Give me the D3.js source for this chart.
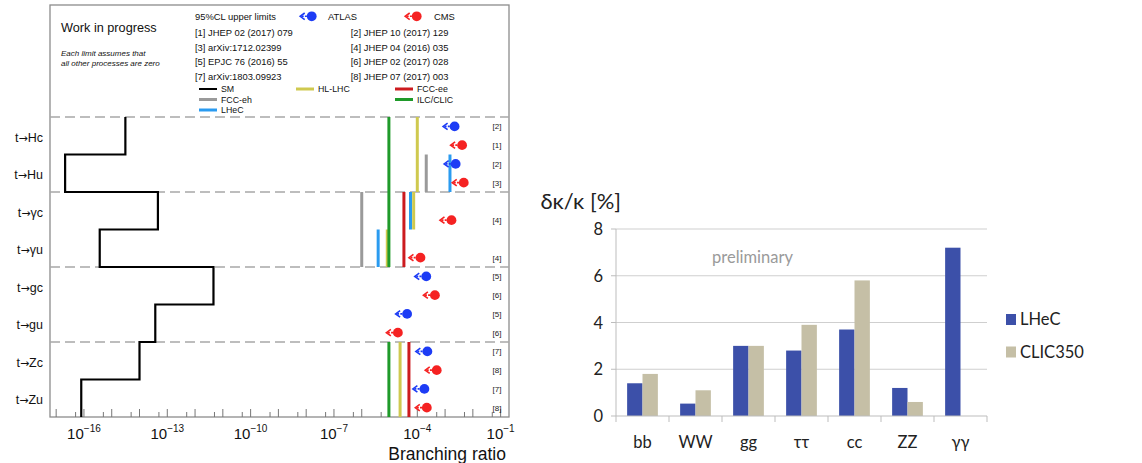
<!DOCTYPE html>
<html><head><meta charset="utf-8">
<script src="https://cdn.jsdelivr.net/npm/d3@7"></script>
<style>body{margin:0;background:#fff;} svg{display:block;}</style>
</head><body><svg id="c" width="1142" height="463"></svg>
<script>
// ---------------- Left panel data ----------------
const categories = ["t→Hc","t→Hu","t→γc","t→γu","t→gc","t→gu","t→Zc","t→Zu"];
const smBR = [3.1e-15, 2.1e-17, 4.6e-14, 3.7e-16, 4.6e-12, 3.7e-14, 1.0e-14, 8.0e-17];
const atlasLimits = [2.2e-3, 2.4e-3, null, null, 2.1e-4, 4.3e-5, 2.3e-4, 1.8e-4];
const atlasRefs = ["[2]","[2]","","","[5]","[5]","[7]","[7]"];
const cmsLimits = [4.1e-3, 4.7e-3, 1.7e-3, 1.3e-4, 4.3e-4, 2.0e-5, 5.0e-4, 2.2e-4];
const cmsRefs = ["[1]","[3]","[4]","[4]","[6]","[6]","[8]","[8]"];
// future sensitivities: [first category, last category, branching ratio]
const hlLhc   = [["t→Hc","t→Hu",1.0e-4],["t→γc","t→γc",7.4e-5],["t→γu","t→γu",8.3e-6],["t→Zc","t→Zu",2.4e-5]];
const fccEh   = [["t→Hu","t→Hu",2.1e-4],["t→γc","t→γu",1.0e-6]];
const lhecFcnc= [["t→Hu","t→Hu",1.5e-3],["t→γc","t→γc",5.7e-5],["t→γu","t→γu",3.9e-6]];
const fccEe   = [["t→γc","t→γu",3.3e-5],["t→Zc","t→Zu",5.0e-5]];
const ilcClic = [["t→Hc","t→Hu",9.5e-6],["t→γc","t→γu",9.5e-6],["t→Zc","t→Zu",9.5e-6]];
const xDomain = [6e-18, 0.2];
const labeledExponents = [-16,-13,-10,-7,-4,-1];
const groupStarts = ["t→Hc","t→γc","t→gc","t→Zc"];
const referenceList = ["[1] JHEP 02 (2017) 079","[2] JHEP 10 (2017) 129","[3] arXiv:1712.02399","[4] JHEP 04 (2016) 035",
  "[5] EPJC 76 (2016) 55","[6] JHEP 02 (2017) 028","[7] arXiv:1803.09923","[8] JHEP 07 (2017) 003"];
const legendEntries = ["SM","HL-LHC","FCC-ee","FCC-eh","ILC/CLIC","LHeC"];

// ---------------- Right panel data ----------------
const couplings = ["bb","WW","gg","ττ","cc","ZZ","γγ"];
const lhecValues = [1.4, 0.53, 3.0, 2.8, 3.7, 1.2, 7.2];
const clic350Values = [1.8, 1.1, 3.0, 3.9, 5.8, 0.6, null];
const seriesNames = ["LHeC","CLIC350"];
const yTicks = [0,2,4,6,8];

const svg = d3.select("#c");
const LF = "'Liberation Sans', Arial, Helvetica, sans-serif";
const RF = "Lato, 'Open Sans', sans-serif";

const colors = {"SM":"#000","HL-LHC":"#cfc94f","FCC-ee":"#cc1b1f","FCC-eh":"#9a9a9a","ILC/CLIC":"#1f9a2a","LHeC":"#2a9bf0"};
const atlasColor = "#1d3cf5", cmsColor = "#f52222";

// ---------- Left panel ----------
const L = svg.append("g").attr("font-family", LF);
const x = d3.scaleLog().domain(xDomain).range([50, 509]);
const y = d3.scaleBand().domain(categories).range([117, 417]);
const slot = d3.scaleBand().domain(["ATLAS","CMS"]).range([0, y.bandwidth()]);

// frame
L.append("rect").attr("x",50).attr("y",5).attr("width",459).attr("height",412)
  .attr("fill","none").attr("stroke","#8c8c8c").attr("stroke-width",1.3);

// dashed separators
L.selectAll("line.sep").data(groupStarts).join("line").attr("class","sep")
  .attr("x1",50).attr("x2",509).attr("y1",d=>y(d)).attr("y2",d=>y(d))
  .attr("stroke","#a8a8a8").attr("stroke-width",1.4).attr("stroke-dasharray","10,5");

// category labels
const cl = L.selectAll("text.cat").data(categories).join("text").attr("class","cat")
  .attr("x",43).attr("y",d=>y(d)+y.bandwidth()/2+6).attr("text-anchor","end")
  .attr("font-size",12.5).attr("fill","#111");
cl.append("tspan").text(d=>d.split("→")[0]);
cl.append("tspan").attr("font-family","'DejaVu Sans', sans-serif").attr("font-size",11).text("→");
cl.append("tspan").text(d=>d.split("→")[1]);

// x axis ticks
const majors = d3.range(-17, 0).map(e=>Math.pow(10,e));
const minors = d3.range(-18, 0).map(e=>5*Math.pow(10,e)).filter(v=>v>=xDomain[0]&&v<=xDomain[1]);
L.selectAll("line.maj").data(majors).join("line")
  .attr("x1",d=>x(d)).attr("x2",d=>x(d)).attr("y1",417).attr("y2",409)
  .attr("stroke","#777").attr("stroke-width",1);
L.selectAll("line.min").data(minors).join("line")
  .attr("x1",d=>x(d)).attr("x2",d=>x(d)).attr("y1",417).attr("y2",412)
  .attr("stroke","#777").attr("stroke-width",1);
const tl = L.selectAll("text.tl").data(labeledExponents).join("text")
  .attr("x",d=>x(Math.pow(10,d))).attr("y",439).attr("text-anchor","middle").attr("fill","#111");
tl.append("tspan").attr("font-size",15).text("10");
tl.append("tspan").attr("font-size",10).attr("dy",-7).text(d=>"−"+Math.abs(d));
L.append("text").attr("x",506).attr("y",459.5).attr("text-anchor","end").attr("font-size",17.5)
  .attr("fill","#111").text("Branching ratio");

// future sensitivity lines
const futureSets = [["FCC-eh",fccEh],["LHeC",lhecFcnc],["HL-LHC",hlLhc],["ILC/CLIC",ilcClic],["FCC-ee",fccEe]];
futureSets.forEach(([name, arr]) => {
  L.selectAll(null).data(arr).join("line")
    .attr("x1",d=>x(d[2])).attr("x2",d=>x(d[2]))
    .attr("y1",d=>y(d[0])).attr("y2",d=>y(d[1])+y.bandwidth())
    .attr("stroke",colors[name]).attr("stroke-width",3);
});

// SM step line
const smPts = [];
categories.forEach((c,i)=>{ smPts.push([smBR[i], y(c)]); smPts.push([smBR[i], y(c)+y.bandwidth()]); });
L.append("path").attr("d", d3.line().x(d=>x(d[0])).y(d=>d[1])(smPts))
  .attr("fill","none").attr("stroke","#000").attr("stroke-width",2.2);

// limit markers
function marker(g, cx, cy, col){
  g.append("line").attr("x1",cx-10).attr("x2",cx-3).attr("y1",cy).attr("y2",cy)
    .attr("stroke",col).attr("stroke-width",1.6).attr("stroke-dasharray","2,1.2");
  g.append("path").attr("d",`M${cx-7},${cy-3.3}L${cx-11.5},${cy}L${cx-7},${cy+3.3}`)
    .attr("fill","none").attr("stroke",col).attr("stroke-width",1.6);
  g.append("circle").attr("cx",cx).attr("cy",cy).attr("r",4.9).attr("fill",col);
}
const mk = L.append("g");
categories.forEach((c,i)=>{
  const ya = y(c)+slot("ATLAS")+slot.bandwidth()/2;
  const yc = y(c)+slot("CMS")+slot.bandwidth()/2;
  if (atlasLimits[i]!=null) marker(mk, x(atlasLimits[i]), ya, atlasColor);
  if (cmsLimits[i]!=null) marker(mk, x(cmsLimits[i]), yc, cmsColor);
  if (atlasRefs[i]) L.append("text").attr("x",497).attr("y",ya+3).attr("text-anchor","middle").attr("font-size",8).attr("fill","#222").text(atlasRefs[i]);
  if (cmsRefs[i]) L.append("text").attr("x",497).attr("y",yc+3).attr("text-anchor","middle").attr("font-size",8).attr("fill","#222").text(cmsRefs[i]);
});

// header legend
L.append("text").attr("x",61).attr("y",32).attr("font-size",12.7).attr("fill","#111").text("Work in progress");
L.append("text").attr("x",61).attr("y",56).attr("font-size",8).attr("font-style","italic").attr("fill","#111").text("Each limit assumes that");
L.append("text").attr("x",61).attr("y",66).attr("font-size",8).attr("font-style","italic").attr("fill","#111").text("all other processes are zero");
L.append("text").attr("x",195).attr("y",19.5).attr("font-size",9.4).attr("fill","#111").text("95%CL upper limits");
marker(L, 311.7, 16.3, atlasColor);
L.append("text").attr("x",328).attr("y",19.5).attr("font-size",9.4).attr("fill","#111").text("ATLAS");
marker(L, 416.7, 16.3, cmsColor);
L.append("text").attr("x",434).attr("y",19.5).attr("font-size",9.4).attr("fill","#111").text("CMS");
L.selectAll("text.ref").data(referenceList).join("text")
  .attr("x",(d,i)=> i%2===0 ? 195 : 350.7).attr("y",(d,i)=>36+Math.floor(i/2)*14.6)
  .attr("font-size",9.4).attr("fill","#111").text(d=>d);
const legPos = {"SM":[199,89],"HL-LHC":[296,89],"FCC-ee":[395,89],"FCC-eh":[199,99.5],"ILC/CLIC":[395,99.5],"LHeC":[199,110]};
legendEntries.forEach(n=>{
  const [lx,ly]=legPos[n];
  L.append("line").attr("x1",lx).attr("x2",lx+18).attr("y1",ly).attr("y2",ly)
    .attr("stroke",colors[n]).attr("stroke-width",n==="SM"?2:3);
  L.append("text").attr("x",lx+22).attr("y",ly+3).attr("font-size",8.8).attr("fill","#111").text(n);
});

// ---------- Right panel ----------
const R = svg.append("g").attr("font-family", RF);
const x0 = d3.scaleBand().domain(couplings).range([616, 987]).paddingInner(0.42).paddingOuter(0.21);
const x1 = d3.scaleBand().domain(seriesNames).range([0, x0.bandwidth()]);
const yr = d3.scaleLinear().domain([0, 8]).range([416, 229]);
const barColors = {"LHeC":"#3c50a9","CLIC350":"#c5bfa6"};
const [px0, px1] = x0.range();

R.selectAll("line.grid").data(yTicks.filter(t=>t>0)).join("line")
  .attr("x1",px0).attr("x2",px1).attr("y1",d=>yr(d)).attr("y2",d=>yr(d))
  .attr("stroke","#cfcfcf").attr("stroke-width",1);
R.selectAll("line.yt").data(yTicks).join("line")
  .attr("x1",px0-5).attr("x2",px0).attr("y1",d=>yr(d)).attr("y2",d=>yr(d))
  .attr("stroke","#bdbdbd").attr("stroke-width",1);
R.selectAll("text.yl").data(yTicks).join("text")
  .attr("x",603).attr("y",d=>yr(d)+6).attr("text-anchor","end").attr("font-size",16.5).attr("fill","#222").text(d=>d);

const barData = [];
couplings.forEach((c,i)=>{
  barData.push({c, s:"LHeC", v:lhecValues[i]});
  if (clic350Values[i]!=null) barData.push({c, s:"CLIC350", v:clic350Values[i]});
});
R.selectAll("rect.bar").data(barData).join("rect")
  .attr("x",d=>x0(d.c)+x1(d.s)).attr("width",x1.bandwidth())
  .attr("y",d=>yr(d.v)).attr("height",d=>yr(0)-yr(d.v))
  .attr("fill",d=>barColors[d.s]);

// axes lines
R.append("line").attr("x1",px0).attr("x2",px0).attr("y1",yr(8)).attr("y2",yr(0)).attr("stroke","#bdbdbd");
R.append("line").attr("x1",px0).attr("x2",px1).attr("y1",yr(0)).attr("y2",yr(0)).attr("stroke","#bdbdbd");
const bounds = d3.range(couplings.length+1).map(i=>px0+i*x0.step());
R.selectAll("line.xt").data(bounds).join("line")
  .attr("x1",d=>d).attr("x2",d=>d).attr("y1",416).attr("y2",422).attr("stroke","#bdbdbd");
R.selectAll("text.xl").data(couplings).join("text")
  .attr("x",d=>x0(d)+x0.bandwidth()/2).attr("y",448).attr("text-anchor","middle")
  .attr("font-size",16.5).attr("fill","#222").text(d=>d);

R.append("text").attr("x",621).attr("y",209).attr("text-anchor","end").attr("font-size",22).attr("fill","#222").text("δκ/κ [%]");
R.append("text").attr("x",712).attr("y",263).attr("font-size",16.5).attr("fill","#9a9a9a").text("preliminary");

seriesNames.forEach((s,i)=>{
  const ly = 314 + i*32.5;
  R.append("rect").attr("x",1006).attr("y",ly).attr("width",10).attr("height",11).attr("fill",barColors[s]);
  R.append("text").attr("x",1020).attr("y",ly+11).attr("font-size",16.5).attr("fill","#222").text(s);
});
</script></body></html>
